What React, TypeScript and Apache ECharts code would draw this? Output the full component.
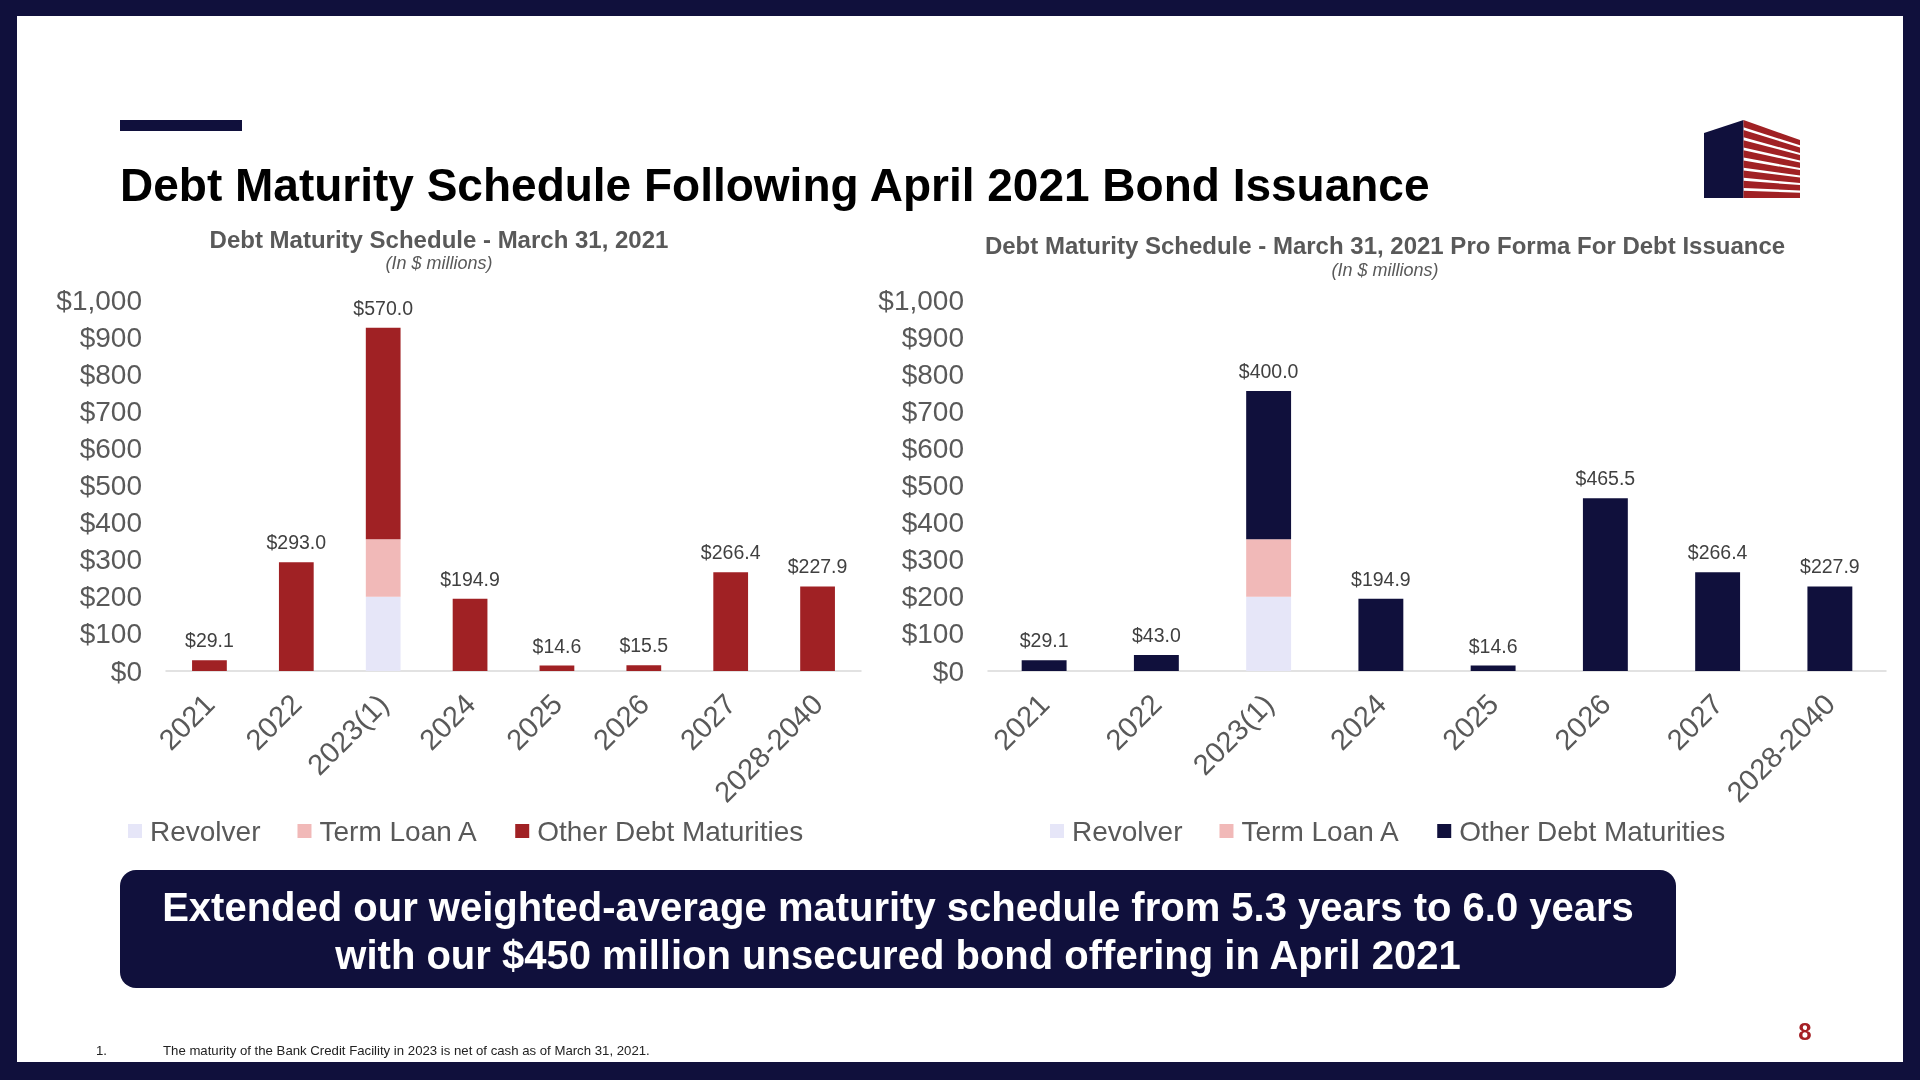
import React, { useEffect, useRef } from "react";
import * as echarts from "echarts";

const categories = ["2021", "2022", "2023(1)", "2024", "2025", "2026", "2027", "2028-2040"];
const revolver = [0, 0, 200, 0, 0, 0, 0, 0];
const termLoanA = [0, 0, 155, 0, 0, 0, 0, 0];
const otherCurrent = [29.1, 293.0, 570.0, 194.9, 14.6, 15.5, 266.4, 227.9];
const otherProForma = [29.1, 43.0, 400.0, 194.9, 14.6, 465.5, 266.4, 227.9];
const seriesNames = ["Revolver", "Term Loan A", "Other Debt Maturities"];
const yMin = 0;
const yMax = 1000;
const yInterval = 100;

const NAVY = "#10103c";
const RED = "#a02124";
const PINK = "#f1b9b8";
const LAVENDER = "#e6e6f8";
const GRAY = "#595959";
const FONT = "'Liberation Sans', Arial, sans-serif";

function logoElements() {
  const els: any[] = [];
  els.push({
    type: "polygon",
    shape: { points: [[1704, 133], [1743.5, 120], [1743.5, 198], [1704, 198]] },
    style: { fill: NAVY },
  });
  const n = 8;
  const r = 1 / (n + (n - 1) * 0.4);
  const w = r * 0.4;
  const xl = 1743.5, xr = 1800;
  const yl0 = 120, yr0 = 140, yb = 198;
  for (let k = 0; k < n; k++) {
    const t0 = k * (r + w);
    const t1 = t0 + r;
    const yl = (t: number) => yl0 + t * (yb - yl0);
    const yr = (t: number) => yr0 + t * (yb - yr0);
    els.push({
      type: "polygon",
      shape: { points: [[xl, yl(t0)], [xr, yr(t0)], [xr, yr(t1)], [xl, yl(t1)]] },
      style: { fill: RED },
    });
  }
  return els;
}

function barSeries(gridIdx: number, other: number[], otherColor: string) {
  const stack = "s" + gridIdx;
  const base = {
    type: "bar",
    stack,
    xAxisIndex: gridIdx,
    yAxisIndex: gridIdx,
    barWidth: "40%",
  };
  return [
    { ...base, name: seriesNames[0], data: revolver, itemStyle: { color: LAVENDER } },
    { ...base, name: seriesNames[1], data: termLoanA, itemStyle: { color: PINK } },
    {
      ...base,
      name: seriesNames[2],
      data: other,
      itemStyle: { color: otherColor },
      label: {
        show: true,
        position: "top",
        distance: 10,
        formatter: (p: any) => "$" + Number(p.value).toFixed(1),
        fontSize: 19.5,
        color: "#404040",
        fontFamily: FONT,
      },
    },
  ];
}

function legendFor(left: number, otherColor: string) {
  return {
    left,
    top: 817,
    padding: 0,
    orient: "horizontal",
    icon: "rect",
    itemWidth: 14,
    itemHeight: 14,
    itemGap: 37,
    selectedMode: false,
    textStyle: { fontSize: 28, color: GRAY, fontFamily: FONT, padding: [0, 0, 0, 3] },
    data: [
      { name: seriesNames[0], itemStyle: { color: LAVENDER } },
      { name: seriesNames[1], itemStyle: { color: PINK } },
      { name: seriesNames[2], itemStyle: { color: otherColor } },
    ],
  };
}

export default function App() {
  const ref = useRef<HTMLDivElement>(null);
  useEffect(() => {
    if (!ref.current) return;
    const chart = echarts.init(ref.current, undefined, { renderer: "svg" });
    const xAxisCommon = {
      type: "category",
      data: categories,
      axisTick: { show: false },
      axisLine: { show: true, lineStyle: { color: "#d9d9d9", width: 1.5 } },
      axisLabel: { rotate: 45, interval: 0, margin: 28, fontSize: 29, color: GRAY, fontFamily: FONT },
    };
    const yAxisCommon = {
      type: "value",
      min: yMin,
      max: yMax,
      interval: yInterval,
      splitLine: { show: false },
      axisLine: { show: false },
      axisTick: { show: false },
      axisLabel: {
        fontSize: 28,
        color: GRAY,
        fontFamily: FONT,
        margin: 24,
        formatter: (v: number) => "$" + v.toLocaleString("en-US"),
      },
    };
    const graphic: any[] = [
      { type: "rect", z: -100, shape: { x: 0, y: 0, width: 1920, height: 1080 }, style: { fill: NAVY } },
      { type: "rect", z: -99, shape: { x: 17, y: 16, width: 1886, height: 1046 }, style: { fill: "#ffffff" } },
      { type: "rect", shape: { x: 120, y: 120, width: 122, height: 11 }, style: { fill: NAVY } },
      {
        type: "text", x: 120, y: 185,
        style: { text: "Debt Maturity Schedule Following April 2021 Bond Issuance", fill: "#000", font: `bold 46px ${FONT}`, verticalAlign: "middle", align: "left" },
      },
      ...logoElements(),
      {
        type: "text", x: 439, y: 239,
        style: { text: "Debt Maturity Schedule - March 31, 2021", fill: GRAY, font: `bold 24px ${FONT}`, align: "center", verticalAlign: "middle" },
      },
      {
        type: "text", x: 439, y: 263,
        style: { text: "(In $ millions)", fill: GRAY, font: `italic 18px ${FONT}`, align: "center", verticalAlign: "middle" },
      },
      {
        type: "text", x: 1385, y: 245,
        style: { text: "Debt Maturity Schedule - March 31, 2021 Pro Forma For Debt Issuance", fill: GRAY, font: `bold 24px ${FONT}`, align: "center", verticalAlign: "middle" },
      },
      {
        type: "text", x: 1385, y: 269.5,
        style: { text: "(In $ millions)", fill: GRAY, font: `italic 18px ${FONT}`, align: "center", verticalAlign: "middle" },
      },
      { type: "rect", shape: { x: 120, y: 870, width: 1556, height: 118, r: 16 }, style: { fill: NAVY } },
      {
        type: "text", x: 898, y: 907,
        style: { text: "Extended our weighted-average maturity schedule from 5.3 years to 6.0 years", fill: "#fff", font: `bold 40px ${FONT}`, align: "center", verticalAlign: "middle" },
      },
      {
        type: "text", x: 898, y: 954.5,
        style: { text: "with our $450 million unsecured bond offering in April 2021", fill: "#fff", font: `bold 40px ${FONT}`, align: "center", verticalAlign: "middle" },
      },
      {
        type: "text", x: 1805, y: 1031,
        style: { text: "8", fill: "#a52025", font: `bold 24px ${FONT}`, align: "center", verticalAlign: "middle" },
      },
      {
        type: "text", x: 96, y: 1050,
        style: { text: "1.", fill: "#222", font: `13.2px ${FONT}`, align: "left", verticalAlign: "middle" },
      },
      {
        type: "text", x: 163, y: 1050,
        style: { text: "The maturity of the Bank Credit Facility in 2023 is net of cash as of March 31, 2021.", fill: "#222", font: `13.2px ${FONT}`, align: "left", verticalAlign: "middle" },
      },
    ];
    chart.setOption({
      animation: false,
      textStyle: { fontFamily: FONT },
      grid: [
        { left: 166, top: 300, width: 695, height: 371, containLabel: false },
        { left: 988, top: 300, width: 898, height: 371, containLabel: false },
      ],
      xAxis: [
        { ...xAxisCommon, gridIndex: 0 },
        { ...xAxisCommon, gridIndex: 1 },
      ],
      yAxis: [
        { ...yAxisCommon, gridIndex: 0 },
        { ...yAxisCommon, gridIndex: 1 },
      ],
      legend: [legendFor(128, RED), legendFor(1050, NAVY)],
      series: [...barSeries(0, otherCurrent, RED), ...barSeries(1, otherProForma, NAVY)],
      graphic,
    });
    return () => chart.dispose();
  }, []);
  return (
    <div
      ref={ref}
      style={{ position: "fixed", left: 0, top: 0, width: 1920, height: 1080 }}
    />
  );
}
